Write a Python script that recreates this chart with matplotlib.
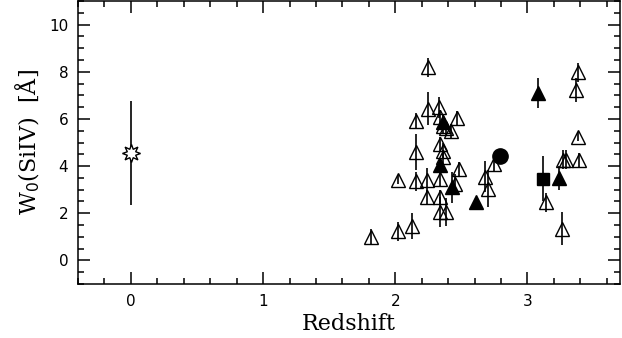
import matplotlib
matplotlib.use("Agg")
import matplotlib.pyplot as plt
from matplotlib.ticker import MultipleLocator

# open triangles: redshift, W0(SiIV), error
open_z = [1.82, 2.02, 2.13, 2.02, 2.16, 2.16, 2.16, 2.25, 2.25, 2.24, 2.24,
          2.33, 2.34, 2.36, 2.38, 2.42, 2.47, 2.34, 2.36, 2.36, 2.34, 2.34,
          2.34, 2.38, 2.45, 2.48, 2.68, 2.70, 2.75, 3.14, 3.26, 3.27, 3.29,
          3.39, 3.38, 3.37, 3.38]
open_w = [0.99, 1.23, 1.44, 3.42, 5.93, 4.59, 3.35, 8.19, 6.43, 3.42, 2.68,
          6.50, 6.07, 5.72, 5.60, 5.50, 6.03, 4.94, 4.66, 4.38, 3.46, 2.68,
          2.05, 2.05, 3.25, 3.88, 3.55, 3.04, 4.10, 2.47, 1.34, 4.27, 4.27,
          4.27, 5.25, 7.23, 7.98]
open_err = [0.35, 0.4, 0.55, 0.2, 0.3, 0.75, 0.4, 0.4, 0.7, 0.5, 0.3,
            0.45, 0.3, 0.3, 0.3, 0.3, 0.3, 0.3, 0.3, 0.3, 0.3, 0.3,
            0.65, 0.6, 0.4, 0.3, 0.65, 0.78, 0.35, 0.4, 0.7, 0.4, 0.4,
            0.3, 0.2, 0.5, 0.4]

filled_z = [2.34, 2.36, 2.43, 2.61, 3.08, 3.24]
filled_w = [4.03, 5.85, 3.10, 2.47, 7.09, 3.50]
filled_err = [0.3, 0.3, 0.65, 0.2, 0.64, 0.5]

square_z, square_w, square_err = [3.12], [3.46], [0.95]
circle_z, circle_w = [2.79], [4.41]
star_z, star_w, star_err = [0.0], [4.55], [2.2]

fig = plt.figure(figsize=(6.22, 3.38), dpi=100)
ax = fig.add_axes([0.1254, 0.1598, 0.8714, 0.8372])

ebar = dict(fmt="none", ecolor="black", elinewidth=1.2, capsize=0, zorder=2)
ax.errorbar(open_z, open_w, yerr=open_err, **ebar)
ax.errorbar(filled_z, filled_w, yerr=filled_err, **ebar)
ax.errorbar(square_z, square_w, yerr=square_err, **ebar)
ax.errorbar(star_z, star_w, yerr=star_err, **ebar)

ax.plot(open_z, open_w, "^", ms=10, mfc="none", mec="black", mew=1.0, zorder=3)
ax.plot(filled_z, filled_w, "^", ms=10, mfc="black", mec="black", zorder=3)
ax.plot(square_z, square_w, "s", ms=8, mfc="black", mec="black", zorder=3)
ax.plot(circle_z, circle_w, "o", ms=11, mfc="black", mec="black", zorder=3)
ax.plot(star_z, star_w, marker=(8, 1, 0), ms=13, mfc="white", mec="black",
        mew=1.0, ls="none", zorder=3)

ax.set_xlim(-0.4, 3.7)
ax.set_ylim(-1, 11)
ax.xaxis.set_major_locator(MultipleLocator(1))
ax.xaxis.set_minor_locator(MultipleLocator(0.2))
ax.yaxis.set_major_locator(MultipleLocator(2))
ax.yaxis.set_minor_locator(MultipleLocator(0.5))
ax.tick_params(which="both", direction="in", top=True, right=True, width=1.1,
               labelsize=11)
ax.tick_params(which="major", length=8.5, pad=7)
ax.tick_params(which="minor", length=4)
for spine in ax.spines.values():
    spine.set_linewidth(1.1)

ax.set_xlabel("Redshift", family="DejaVu Serif", fontsize=16, labelpad=3)
ax.set_ylabel("W$_0$(SiIV)  [Å]", family="DejaVu Serif", fontsize=16,
              labelpad=5)

fig.savefig("out.png", dpi=100)
